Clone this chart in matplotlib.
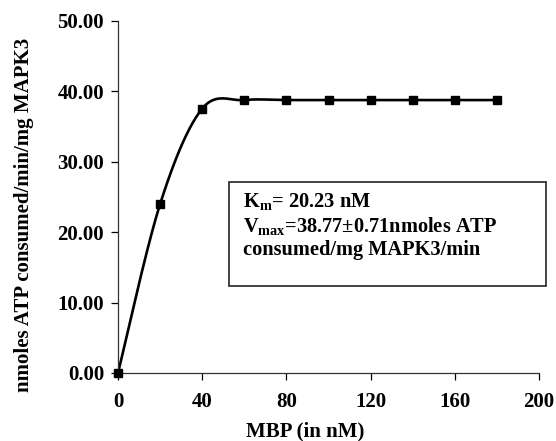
#!/usr/bin/env python
import numpy as np
import matplotlib
matplotlib.use('Agg')
import matplotlib.pyplot as plt
from matplotlib.patches import Rectangle

# substrate concentration (nM) and measured activity
mbp_nm = [0, 20, 40, 60, 80, 100, 120, 140, 160, 180]
atp_rate = [0.0, 24.0, 37.55, 38.77, 38.77, 38.77, 38.77, 38.77, 38.77, 38.77]

x_ticks = [0, 40, 80, 120, 160, 200]
y_ticks = [0, 10, 20, 30, 40, 50]

km_text = r'K$_{\mathrm{m}}$= 20.23 nM'
vmax_text = r'V$_{\mathrm{max}}$=38.77$\pm$0.71nmoles ATP'
unit_text = 'consumed/mg MAPK3/min'


def smooth_line(xs, ys, n=40):
    # excel-like smoothed line: cubic bezier with catmull-rom tangents
    xs = np.asarray(xs, float)
    ys = np.asarray(ys, float)
    px, py = [], []
    for i in range(len(xs) - 1):
        i0 = max(i - 1, 0)
        i3 = min(i + 2, len(xs) - 1)
        c1x = xs[i] + (xs[i + 1] - xs[i0]) / 6.0
        c1y = ys[i] + (ys[i + 1] - ys[i0]) / 6.0
        c2x = xs[i + 1] - (xs[i3] - xs[i]) / 6.0
        c2y = ys[i + 1] - (ys[i3] - ys[i]) / 6.0
        t = np.linspace(0, 1, n)
        a, b, c, d = (1 - t) ** 3, 3 * t * (1 - t) ** 2, 3 * t ** 2 * (1 - t), t ** 3
        px.extend(a * xs[i] + b * c1x + c * c2x + d * xs[i + 1])
        py.extend(a * ys[i] + b * c1y + c * c2y + d * ys[i + 1])
    return px, py


plt.rcParams['font.family'] = ['Liberation Serif', 'DejaVu Serif']
plt.rcParams['font.weight'] = 'bold'
plt.rcParams['mathtext.fontset'] = 'custom'
plt.rcParams['mathtext.rm'] = 'Liberation Serif:bold'
plt.rcParams['mathtext.it'] = 'Liberation Serif:bold'
plt.rcParams['mathtext.bf'] = 'Liberation Serif:bold'

W, H = 556, 441
fig = plt.figure(figsize=(W / 100.0, H / 100.0), dpi=100)
ax = fig.add_axes([118.0 / W, 1 - 373.0 / H, (539.0 - 118.0) / W, (373.0 - 21.0) / H])

sx, sy = smooth_line(mbp_nm, atp_rate)
ax.plot(sx, sy, color='black', lw=1.9, solid_capstyle='round')
ax.plot(mbp_nm, atp_rate, 's', color='black', markersize=5.5, zorder=3, clip_on=False)

ax.set_xlim(0, 200)
ax.set_ylim(0, 50)
ax.set_xticks(x_ticks)
ax.set_yticks(y_ticks)
ax.set_xticklabels([str(v) for v in x_ticks])
ax.set_yticklabels(['%.2f' % v for v in y_ticks])
ax.tick_params(direction='out', length=5, width=0.9, labelsize=15, pad=5)
ax.tick_params(axis='x', pad=9)

for side in ('top', 'right'):
    ax.spines[side].set_visible(False)
for side in ('left', 'bottom'):
    ax.spines[side].set_linewidth(0.9)
    ax.spines[side].set_color('#333333')

ax.set_xlabel('MBP (in nM)', fontsize=15, fontweight='bold')
ax.xaxis.set_label_coords((305.0 - 118.0) / (539.0 - 118.0), -(431.0 - 373.0) / (373.0 - 21.0))
ax.xaxis.label.set_va('center')
ax.set_ylabel('nmoles ATP consumed/min/mg MAPK3', fontsize=15, fontweight='bold')
ax.yaxis.set_label_coords(-(118.0 - 24.0) / (539.0 - 118.0), (373.0 - 215.0) / (373.0 - 21.0))
ax.yaxis.label.set_va('center')

# text box, placed in figure pixels
bx0, bx1, by0, by1 = 229.0, 546.0, 182.0, 286.0
fig.patches.append(Rectangle((bx0 / W, 1 - by1 / H), (bx1 - bx0) / W, (by1 - by0) / H,
                             transform=fig.transFigure, fill=False, edgecolor='#222222',
                             lw=1.2, figure=fig))
for txt, yc in zip([km_text, vmax_text, unit_text], [202.0, 226.0, 250.0]):
    fig.text(243.0 / W, 1 - yc / H, txt, fontsize=14.7, fontweight='bold',
             ha='left', va='center')

fig.savefig('out.png', dpi=100)
